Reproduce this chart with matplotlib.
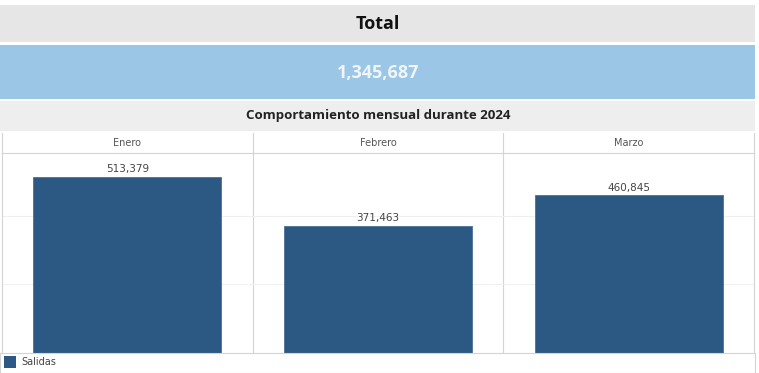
import matplotlib.pyplot as plt
from matplotlib.patches import Rectangle

months = ['Enero', 'Febrero', 'Marzo']
salidas = [513379, 371463, 460845]
total = sum(salidas)
year = 2024

W, H = 759, 373
BAR_COLOR = '#2c5884'
GRID = '#f0f0f0'
EDGE = '#d4d4d4'


def fx(px):
    return px / W


def fy(py):
    return 1 - py / H


fig = plt.figure(figsize=(W / 100, H / 100), dpi=100)

# header bands
fig.patches.append(Rectangle((fx(0), fy(42)), fx(755), 37 / H, transform=fig.transFigure,
                             facecolor='#e6e6e6', edgecolor='none'))
fig.text(fx(378), fy(24), 'Total', ha='center', va='center', fontsize=13,
         fontweight='bold', family='Open Sans', color='#111111')

fig.patches.append(Rectangle((fx(0), fy(99)), fx(755), 54 / H, transform=fig.transFigure,
                             facecolor='#9cc6e5', edgecolor='none'))
fig.text(fx(378), fy(73), f'{total:,}', ha='center', va='center', fontsize=13,
         fontweight='bold', family='Open Sans', color='#f0f5fa')

fig.patches.append(Rectangle((fx(0), fy(131)), fx(755), 30 / H, transform=fig.transFigure,
                             facecolor='#eeeeee', edgecolor='none'))
fig.text(fx(378), fy(116), f'Comportamiento mensual durante {year}', ha='center',
         va='center', fontsize=9.5, fontweight='bold', family='Open Sans', color='#222222')

# panes
left, right = 2, 754
pane_w = (right - left) / len(months)
top, header_bot, bottom = 133, 153, 353
ymax = 583000

for i, (month, value) in enumerate(zip(months, salidas)):
    x0 = left + i * pane_w
    ax = fig.add_axes([fx(x0), fy(bottom), fx(pane_w), (bottom - header_bot) / H])
    ax.patch.set_visible(False)
    ax.bar([0], [value], width=0.75, color=BAR_COLOR, edgecolor='#4a7099', linewidth=0.6)
    ax.set_xlim(-0.5, 0.5)
    ax.set_ylim(0, ymax)
    ax.set_yticks([200000, 400000])
    ax.yaxis.grid(True, color=GRID, linewidth=0.8)
    ax.set_axisbelow(True)
    ax.tick_params(left=False, bottom=False, labelleft=False, labelbottom=False)
    for side in ['top', 'bottom']:
        ax.spines[side].set_visible(False)
    ax.spines['left'].set_color(EDGE)
    ax.spines['right'].set_color(EDGE)
    ax.spines['left'].set_visible(i == 0)
    ax.text(0, value + ymax * 0.012, f'{value:,}', ha='center', va='bottom', fontsize=7.5,
            color='#444444', family='DejaVu Sans')

    # header cell
    hx = fig.add_axes([fx(x0), fy(header_bot), fx(pane_w), (header_bot - top) / H])
    hx.patch.set_visible(False)
    hx.set_xticks([])
    hx.set_yticks([])
    for side in hx.spines.values():
        side.set_color(EDGE)
    hx.spines['left'].set_visible(i == 0)
    hx.spines['top'].set_visible(False)
    hx.text(0.5, 0.5, month, ha='center', va='center', fontsize=7, color='#555555',
            family='DejaVu Sans', transform=hx.transAxes)

# legend strip
lx = fig.add_axes([fx(0), 0, fx(755), (H - bottom) / H])
lx.patch.set_visible(False)
lx.set_xticks([])
lx.set_yticks([])
lx.set_xlim(0, 755)
lx.set_ylim(0, H - bottom)
for side in lx.spines.values():
    side.set_color(EDGE)
lx.add_patch(Rectangle((4, 5), 12, 12, facecolor=BAR_COLOR, edgecolor='none'))
lx.text(21, 11, 'Salidas', va='center', ha='left', fontsize=7, color='#444444',
        family='DejaVu Sans')

fig.savefig('out.png', dpi=100)
